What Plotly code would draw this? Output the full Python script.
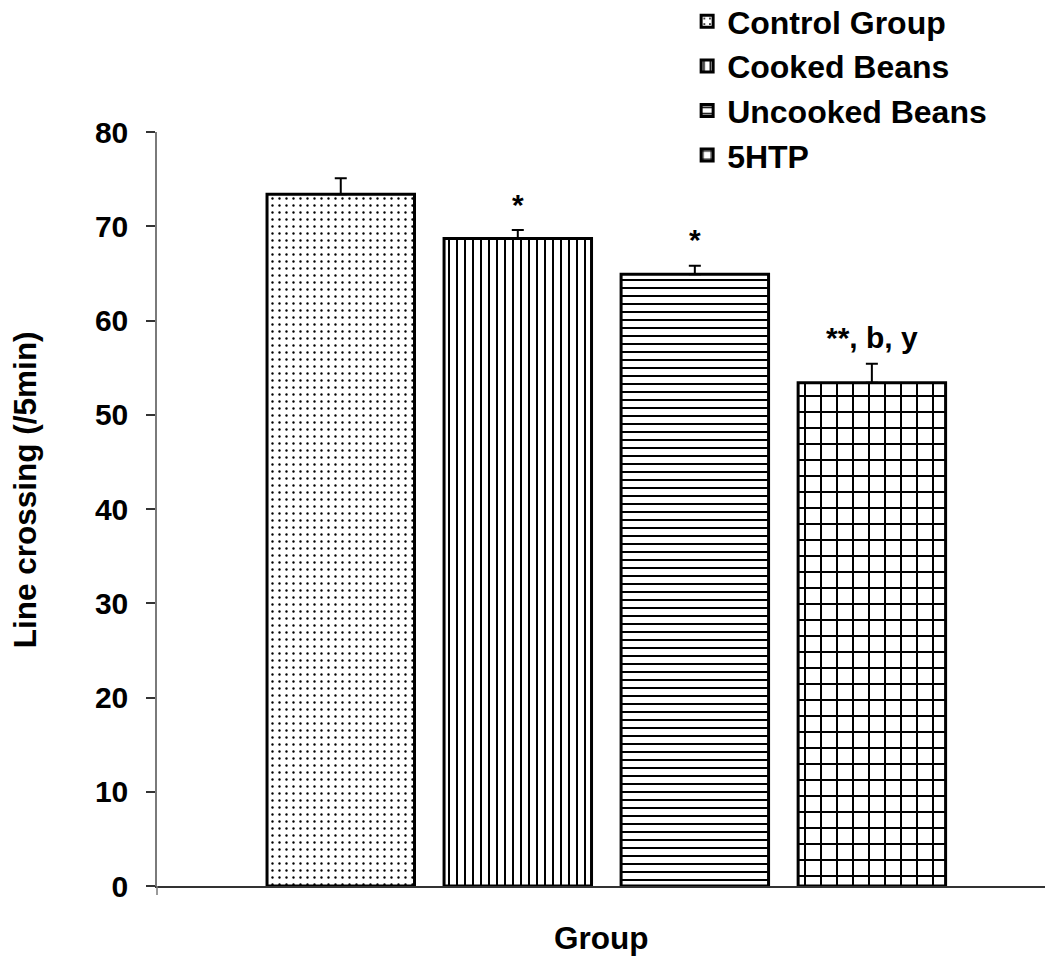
import plotly.graph_objects as go

# Groups, means (line crossings per 5 min) and upper error (SEM)
groups = ["Control Group", "Cooked Beans", "Uncooked Beans", "5HTP"]
means = [73.4, 68.7, 64.9, 53.4]
sem = [1.7, 0.9, 0.9, 2.0]
sig_labels = ["", "*", "*", "**, b, y"]

y_ticks = [0, 10, 20, 30, 40, 50, 60, 70, 80]

# Hatch style for each group
patterns = [
    dict(shape=".", size=7, solidity=0.09),
    dict(shape="|", size=8, solidity=0.25),
    dict(shape="-", size=8, solidity=0.25),
    dict(shape="+", size=16, solidity=0.234),
]

FONT = "Liberation Sans, Arial, sans-serif"

fig = go.Figure()
for i, g in enumerate(groups):
    fig.add_trace(go.Bar(
        x=[g], y=[means[i]], name=g, width=0.833,
        legendgroup=g,
        marker=dict(
            color="white",
            line=dict(color="black", width=3),
            pattern=dict(fgcolor="black", bgcolor="white", fgopacity=1,
                         fillmode="overlay", **patterns[i]),
        ),
        error_y=dict(type="data", symmetric=False, array=[sem[i]], arrayminus=[0],
                     color="black", thickness=2, width=6),
    ))

for i, g in enumerate(groups):
    if sig_labels[i]:
        fig.add_annotation(
            x=g, y=means[i] + sem[i], xref="x", yref="y",
            text=sig_labels[i], showarrow=False, yanchor="middle", yshift=26,
            font=dict(family=FONT, size=30, color="black", weight="bold"),
        )

# Axis titles
fig.add_annotation(
    x=-0.1486, y=0.525, xref="paper", yref="paper", text="Line crossing (/5min)",
    textangle=-90, showarrow=False, xanchor="center", yanchor="middle",
    font=dict(family=FONT, size=31.5, color="black", weight="bold"),
)
fig.add_annotation(
    x=0.5, y=-0.069, xref="paper", yref="paper", text="Group",
    showarrow=False, xanchor="center", yanchor="middle",
    font=dict(family=FONT, size=31.5, color="black", weight="bold"),
)

# Short stub of the value axis below the category axis
fig.add_shape(type="line", xref="paper", yref="paper", x0=0, x1=0, y0=-0.012, y1=0,
              line=dict(color="#7a7a7a", width=1.5))

fig.update_layout(
    width=1045, height=957,
    margin=dict(l=157, r=0, t=132, b=71, autoexpand=False),
    paper_bgcolor="white", plot_bgcolor="white",
    barmode="overlay",
    showlegend=True,
    legend=dict(
        x=0.597, y=1.183, xanchor="left", yanchor="top",
        font=dict(family=FONT, size=32, color="black", weight="bold"),
        traceorder="grouped", tracegroupgap=0,
        bgcolor="rgba(0,0,0,0)",
    ),
    xaxis=dict(
        type="category", categoryorder="array", categoryarray=groups,
        range=[-1.038, 3.978], showticklabels=False, ticks="",
        showline=True, linecolor="#333333", linewidth=1.5,
        showgrid=False, zeroline=False,
    ),
    yaxis=dict(
        range=[0, 80], tickvals=y_ticks, ticks="outside", ticklen=9,
        tickcolor="#333333", tickwidth=1.5,
        showline=True, linecolor="#7a7a7a", linewidth=1.5,
        showgrid=False, zeroline=False,
        ticklabelstandoff=12,
        tickfont=dict(family=FONT, size=30, color="black", weight="bold"),
    ),
)

fig.write_html("out.html")
